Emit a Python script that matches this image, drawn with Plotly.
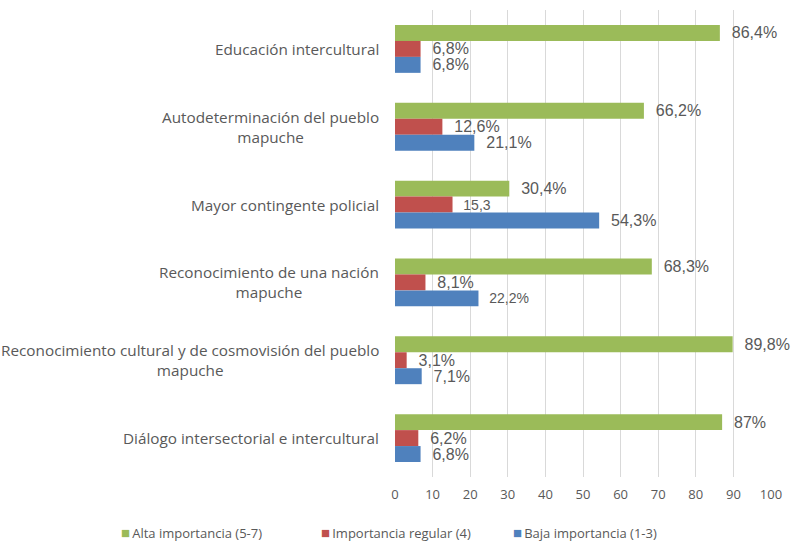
import plotly.graph_objects as go

categories = [
    "Educación intercultural",
    "Autodeterminación del pueblo<br>mapuche",
    "Mayor contingente policial",
    "Reconocimiento de una nación<br>mapuche",
    "Reconocimiento cultural y de cosmovisión del pueblo<br>mapuche",
    "Diálogo intersectorial e intercultural",
]
alta = [86.4, 66.2, 30.4, 68.3, 89.8, 87]
regular = [6.8, 12.6, 15.3, 8.1, 3.1, 6.2]
baja = [6.8, 21.1, 54.3, 22.2, 7.1, 6.8]

alta_text = ["86,4%", "66,2%", "30,4%", "68,3%", "89,8%", "87%"]
regular_text = ["6,8%", "12,6%", "15,3", "8,1%", "3,1%", "6,2%"]
baja_text = ["6,8%", "21,1%", "54,3%", "22,2%", "7,1%", "6,8%"]
regular_sizes = [16, 16, 14, 16, 16, 16]
baja_sizes = [16, 16, 16, 14, 16, 16]
x_ticks = list(range(0, 101, 10))

GRAY = "#595959"
PAD = "\u00a0\u00a0"

series = [
    ("Alta importancia (5-7)", alta, alta_text, [16] * 6, "#9BBB59"),
    ("Importancia regular (4)", regular, regular_text, regular_sizes, "#C0504D"),
    ("Baja importancia (1-3)", baja, baja_text, baja_sizes, "#4F81BD"),
]

# plot area in pixels (used to place the legend row under the axis)
ML, MR, MT, MB = 395, 25, 10, 64
W, H = 796, 541
PW, PH = W - ML - MR, H - MT - MB
legend_left_px = [120, 320, 512]
legend_mid_px = 532

fig = go.Figure()
for name, vals, txt, sizes, color in series:
    fig.add_trace(go.Bar(
        name=name, y=categories, x=vals, orientation="h",
        marker=dict(color=color, line=dict(width=0)),
        text=[PAD + t for t in txt], textposition="outside",
        textfont=dict(family="Liberation Sans, Arial", size=sizes, color=GRAY),
        constraintext="none", cliponaxis=False,
    ))

# category labels, centred when wrapped onto two lines
for cat in categories:
    fig.add_annotation(
        x=-0.037, xref="paper", y=cat, yref="y",
        text=cat, showarrow=False, xanchor="right", yanchor="middle",
        align="center", font=dict(family="Open Sans", size=15.3, color=GRAY),
    )

# legend row: coloured square followed by the series name
for (name, _, _, _, color), left in zip(series, legend_left_px):
    fig.add_annotation(
        x=(left - ML) / PW, xref="paper",
        y=-(legend_mid_px - (MT + PH)) / PH, yref="paper",
        text=f"<span style='color:{color};font-size:15px'>■</span>\u2009{name}",
        showarrow=False, xanchor="left", yanchor="middle", borderpad=0,
        font=dict(family="Open Sans", size=13, color=GRAY),
    )

fig.update_layout(
    width=W, height=H,
    margin=dict(l=ML, r=MR, t=MT, b=MB),
    plot_bgcolor="white", paper_bgcolor="white",
    barmode="group", bargap=0.385, bargroupgap=0,
    showlegend=False,
    xaxis=dict(
        range=[0, 100], tickvals=x_ticks, showgrid=True, gridcolor="#D9D9D9",
        gridwidth=1, zeroline=False, showline=False, ticks="",
        tickfont=dict(family="Open Sans", size=13, color=GRAY),
        ticklabelstandoff=8, automargin=False,
    ),
    yaxis=dict(
        autorange="reversed", showticklabels=False, showgrid=False,
        zeroline=False, showline=False, ticks="",
    ),
)

fig.write_html("out.html")
